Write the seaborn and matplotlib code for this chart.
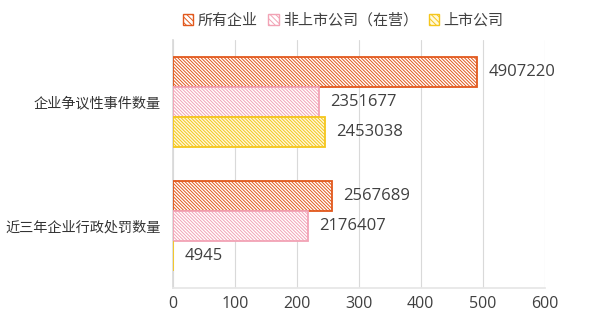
import matplotlib
matplotlib.use("Agg")
import matplotlib.pyplot as plt
import seaborn as sns
import pandas as pd
from matplotlib.patches import Patch

categories = ["企业争议性事件数量", "近三年企业行政处罚数量"]
series = ["所有企业", "非上市公司（在营）", "上市公司"]
all_companies = [4907220, 2567689]
unlisted = [2351677, 2176407]
listed = [2453038, 4945]
xticks = [0, 100, 200, 300, 400, 500, 600]

sns.set_theme(style="white")
plt.rcParams['font.family'] = ['Noto Sans CJK SC', 'DejaVu Sans']
plt.rcParams['hatch.linewidth'] = 0.7

rows = []
for s, vals in zip(series, [all_companies, unlisted, listed]):
    for c, v in zip(categories, vals):
        rows.append({"cat": c, "series": s, "raw": v, "val": v / 10000})
df = pd.DataFrame(rows)

edge_colors = ["#E2581C", "#F2A3B5", "#F5C61C"]
face_colors = ["#FFFFFF", "#FFFFFF", "#FFF9DC"]

fig = plt.figure(figsize=(6, 3.19), dpi=100)
ax = fig.add_axes([0.288, 0.097, 0.62, 0.778])
sns.barplot(data=df, y="cat", x="val", hue="series", order=categories,
            hue_order=series, orient="h", width=0.73, ax=ax, legend=False,
            palette=edge_colors)

for i, cont in enumerate(ax.containers):
    for bar in cont:
        bar.set_facecolor(face_colors[i])
        bar.set_edgecolor(edge_colors[i])
        bar.set_hatch("\\" * 10)
        bar.set_linewidth(1.3)
        bar.set_zorder(3)
    raw = df[df.series == series[i]].set_index("cat").loc[categories, "raw"].tolist()
    ax.bar_label(cont, labels=[str(r) for r in raw], padding=8, fontsize=12,
                 color="#404040", family=["Open Sans", "DejaVu Sans"])

ax.set_xlim(0, 600)
ax.set_xticks(xticks)
ax.set_xticklabels([str(t) for t in xticks], fontsize=11.5, color="#404040",
                   family=["Open Sans", "DejaVu Sans"])
ax.tick_params(axis="y", labelsize=10.2, colors="#333333", length=0, pad=9)
ax.tick_params(axis="x", length=0, pad=6)
ax.set_ylabel("")
ax.set_xlabel("数量（万家）", fontsize=11, color="#404040", labelpad=6)
ax.grid(axis="x", color="#D9D9D9", linewidth=0.8)
ax.set_axisbelow(True)
for side in ["top", "right"]:
    ax.spines[side].set_visible(False)
ax.spines["left"].set_color("#D9D9D9")
ax.spines["left"].set_zorder(1)
ax.spines["bottom"].set_color("#E6E6E6")

handles = [Patch(facecolor=face_colors[i], edgecolor=edge_colors[i],
                 hatch="\\" * 6, linewidth=1.0) for i in range(3)]
fig.legend(handles, series, loc="upper center", bbox_to_anchor=(0.572, 1.0),
           ncol=3, frameon=False, fontsize=10.8, handlelength=0.7,
           handleheight=0.7, handletextpad=0.3, columnspacing=0.7,
           labelcolor="#404040")

fig.savefig("out.png", dpi=100)
